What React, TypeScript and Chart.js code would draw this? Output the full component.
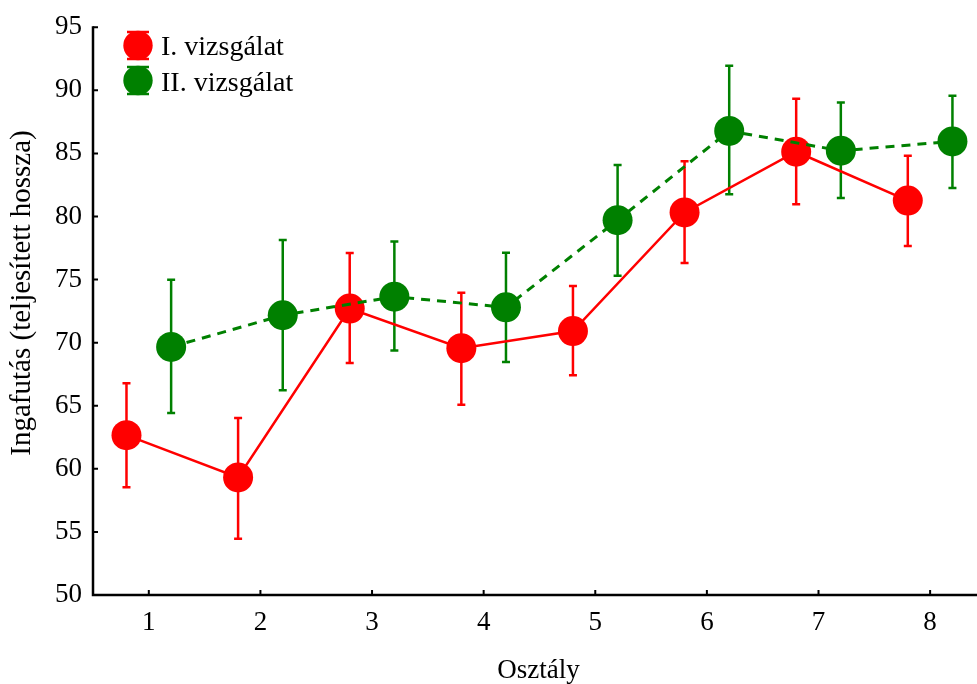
import React, { useEffect, useRef } from "react";
import { Chart, registerables } from "chart.js";

Chart.register(...registerables);

// ---- data ----
const categories = [1, 2, 3, 4, 5, 6, 7, 8];
const seriesNames = ["I. vizsgálat", "II. vizsgálat"];
const meanI = [62.67, 59.32, 72.7, 69.56, 70.92, 80.32, 85.13, 81.26];
const upperI = [66.78, 64.03, 77.1, 73.96, 74.48, 84.38, 89.33, 84.82];
const lowerI = [58.53, 54.45, 68.38, 65.08, 67.41, 76.31, 80.97, 77.65];
const meanII = [69.66, 72.17, 73.64, 72.8, 79.71, 86.78, 85.21, 85.95];
const upperII = [74.98, 78.14, 78.01, 77.12, 84.07, 91.94, 89.04, 89.56];
const lowerII = [64.43, 66.23, 69.37, 68.46, 75.31, 81.76, 81.47, 82.26];
const yTickValues = [50, 55, 60, 65, 70, 75, 80, 85, 90, 95];
const xTitle = "Osztály";
const yTitle = "Ingafutás (teljesített hossza)";

// ---- style ----
const RED = "rgb(255,0,0)";
const GREEN = "rgb(0,128,0)";
const FONT = "'Liberation Serif', 'Times New Roman', serif";
const OFFSET = 0.2;

const series = [
  { name: seriesNames[0], mean: meanI, upper: upperI, lower: lowerI, color: RED, offset: -OFFSET, dash: [] as number[], width: 2.5, order: 2 },
  { name: seriesNames[1], mean: meanII, upper: upperII, lower: lowerII, color: GREEN, offset: OFFSET, dash: [9, 7], width: 3, order: 1 },
];

const decorPlugin = {
  id: "decor",
  beforeDatasetsDraw(chart: any) {
    const { ctx, chartArea, scales } = chart;
    const xs = scales.x;
    const ys = scales.y;
    ctx.save();
    // axes
    ctx.strokeStyle = "#000";
    ctx.lineWidth = 2.5;
    ctx.lineCap = "butt";
    ctx.beginPath();
    ctx.moveTo(chartArea.left, chartArea.top - 1);
    ctx.lineTo(chartArea.left, chartArea.bottom);
    ctx.lineTo(chartArea.right, chartArea.bottom);
    ctx.stroke();
    // inward ticks
    ctx.lineWidth = 2;
    ctx.beginPath();
    yTickValues.forEach((v) => {
      const py = ys.getPixelForValue(v);
      ctx.moveTo(chartArea.left, py);
      ctx.lineTo(chartArea.left + 5, py);
    });
    categories.forEach((c) => {
      const px = xs.getPixelForValue(c);
      ctx.moveTo(px, chartArea.bottom);
      ctx.lineTo(px, chartArea.bottom - 5);
    });
    ctx.stroke();
    // error bars
    series.forEach((s) => {
      ctx.strokeStyle = s.color;
      ctx.lineWidth = 2.5;
      ctx.beginPath();
      categories.forEach((c, i) => {
        const px = xs.getPixelForValue(c + s.offset);
        const pt = ys.getPixelForValue(s.upper[i]);
        const pb = ys.getPixelForValue(s.lower[i]);
        ctx.moveTo(px, pt);
        ctx.lineTo(px, pb);
        ctx.moveTo(px - 4, pt);
        ctx.lineTo(px + 4, pt);
        ctx.moveTo(px - 4, pb);
        ctx.lineTo(px + 4, pb);
      });
      ctx.stroke();
    });
    ctx.restore();
  },
  afterDraw(chart: any) {
    const { ctx, chartArea } = chart;
    ctx.save();
    ctx.fillStyle = "#000";
    // x title
    ctx.font = `27px ${FONT}`;
    ctx.textAlign = "center";
    ctx.textBaseline = "alphabetic";
    ctx.fillText(xTitle, 538.5, 677.5);
    // y title
    ctx.save();
    ctx.translate(29.5, 293);
    ctx.rotate(-Math.PI / 2);
    ctx.font = `29px ${FONT}`;
    ctx.textAlign = "center";
    ctx.fillText(yTitle, 0, 0);
    ctx.restore();
    // legend
    series.forEach((s, i) => {
      const cx = 138;
      const cy = 45.5 + i * 35;
      ctx.fillStyle = s.color;
      ctx.strokeStyle = s.color;
      ctx.beginPath();
      ctx.arc(cx, cy, 14.7, 0, Math.PI * 2);
      ctx.fill();
      ctx.lineWidth = 2.5;
      ctx.beginPath();
      ctx.moveTo(cx - 11, cy - 13.5);
      ctx.lineTo(cx + 11, cy - 13.5);
      ctx.moveTo(cx - 11, cy + 13.5);
      ctx.lineTo(cx + 11, cy + 13.5);
      ctx.stroke();
      ctx.fillStyle = "#000";
      ctx.font = `28px ${FONT}`;
      ctx.textAlign = "left";
      ctx.textBaseline = "alphabetic";
      ctx.fillText(s.name, 161, 55 + i * 35.5);
    });
    ctx.restore();
  },
};

export default function App() {
  const ref = useRef<HTMLCanvasElement | null>(null);
  useEffect(() => {
    if (!ref.current) return;
    const chart = new Chart(ref.current, {
      type: "scatter",
      data: {
        datasets: series.map((s) => ({
          label: s.name,
          data: categories.map((c, i) => ({ x: c + s.offset, y: s.mean[i] })),
          showLine: true,
          borderColor: s.color,
          backgroundColor: s.color,
          borderWidth: s.width,
          borderDash: s.dash,
          pointRadius: 15,
          pointBorderWidth: 0,
          pointBackgroundColor: s.color,
          pointHoverRadius: 15,
          tension: 0,
          order: s.order,
          clip: false as any,
        })),
      },
      options: {
        responsive: false,
        animation: false,
        events: [],
        layout: { autoPadding: false, padding: { top: 22, left: 0, right: 0, bottom: 0 } },
        plugins: { legend: { display: false }, tooltip: { enabled: false } },
        scales: {
          x: {
            type: "linear",
            min: 0.5,
            max: 8.42,
            afterBuildTicks: (s: any) => {
              s.ticks = categories.map((v) => ({ value: v }));
            },
            afterFit: (s: any) => {
              s.height = 89;
            },
            grid: { display: false, drawTicks: false },
            border: { display: false },
            ticks: {
              font: { family: FONT, size: 27 },
              color: "#000",
              padding: 12,
              maxRotation: 0,
              autoSkip: false,
              callback: (v: any) => String(v),
            },
          },
          y: {
            type: "linear",
            min: 50,
            max: 95,
            afterBuildTicks: (s: any) => {
              s.ticks = yTickValues.map((v) => ({ value: v }));
            },
            afterFit: (s: any) => {
              s.width = 93;
            },
            grid: { display: false, drawTicks: false },
            border: { display: false },
            ticks: {
              font: { family: FONT, size: 27 },
              color: "#000",
              padding: 11,
              autoSkip: false,
              callback: (v: any) => String(v),
            },
          },
        },
      },
      plugins: [decorPlugin],
    });
    return () => chart.destroy();
  }, []);
  return (
    <div style={{ position: "absolute", left: 0, top: 0, width: 977, height: 684, background: "#fff" }}>
      <canvas ref={ref} width={977} height={684} style={{ display: "block" }} />
    </div>
  );
}
